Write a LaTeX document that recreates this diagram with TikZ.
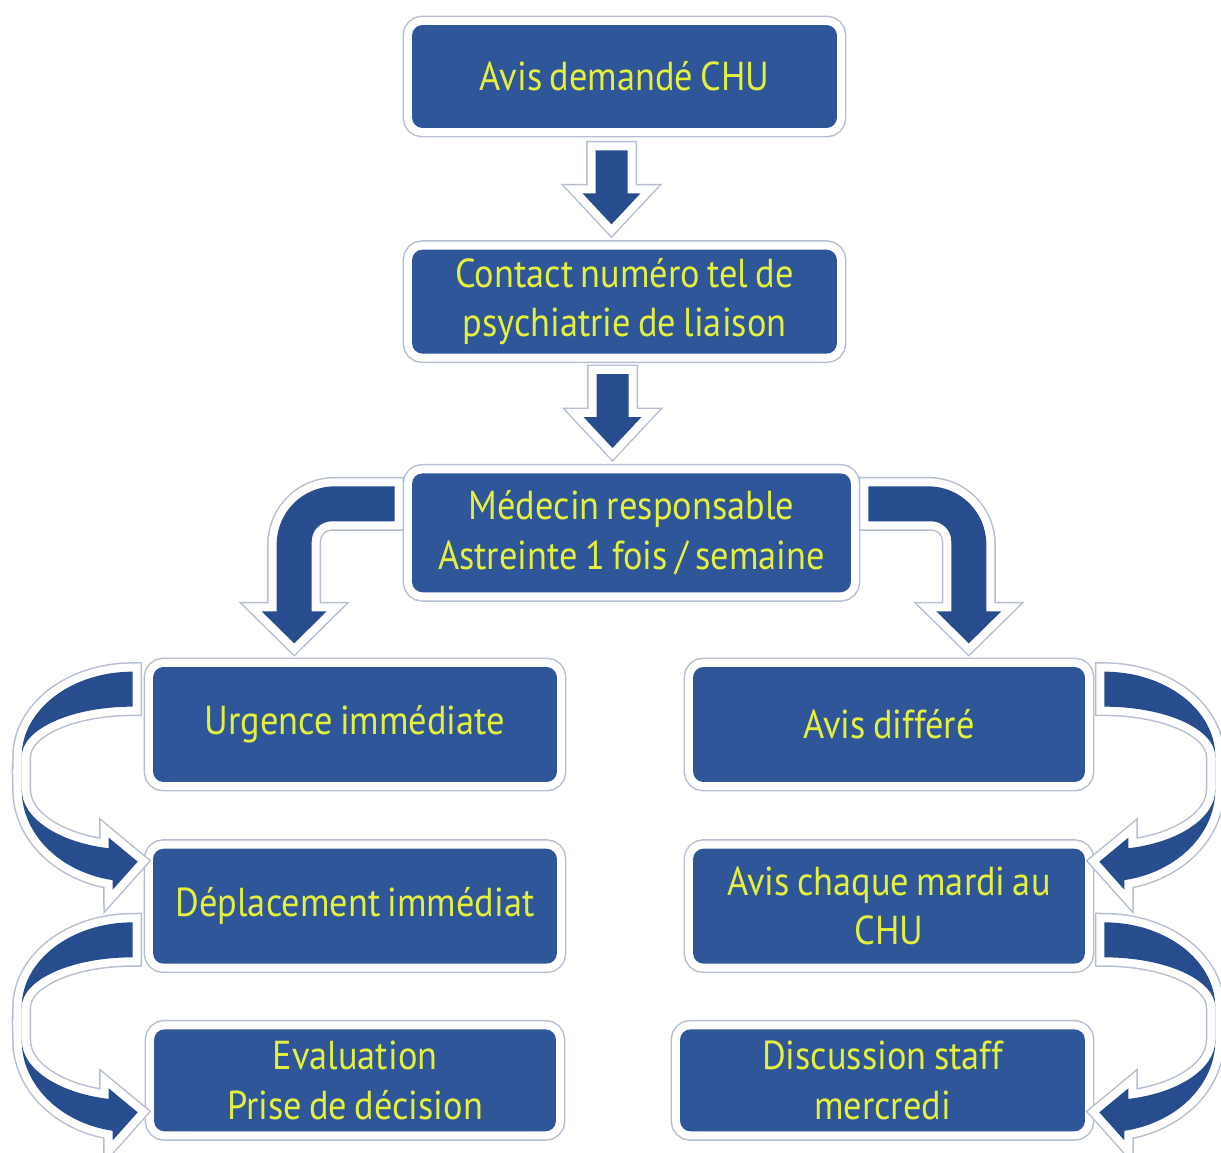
\documentclass[tikz,border=0pt]{standalone}
\usepackage{fontspec}
\setmainfont{PT Sans}[FakeStretch=0.9,WordSpace=0.75]
\usepackage{tikz}
\usetikzlibrary{calc,positioning}

\definecolor{boxblue}{RGB}{46,86,152}
\definecolor{arrowblue}{RGB}{40,77,142}
\definecolor{textyellow}{RGB}{228,240,60}
\definecolor{rimgrey}{RGB}{182,190,210}

\tikzset{
	stepbox/.style={rounded corners=6pt,fill=boxblue,text=textyellow,align=center,inner sep=0pt,
		font=\fontsize{23}{28}\selectfont,
		preaction={draw=rimgrey,line width=0.38cm},
		preaction={draw=white,line width=0.32cm}},
	blockarrow/.style={fill=arrowblue,line join=miter,
		preaction={draw=rimgrey,line width=0.38cm,line join=miter},
		preaction={draw=white,line width=0.32cm,line join=miter}},
	pics/downarr/.style={code={
		\path[blockarrow] (-16,0) -- (16,0) -- (16,-43) -- (29,-43) -- (0,-74) -- (-29,-43) -- (-16,-43) -- cycle;}},
	pics/bentarr/.style={code={
		\path[blockarrow] (-17,46.5) -- (-77,46.5) arc[start angle=90,end angle=180,radius=58]
			-- (-135,-78.5) -- (-150,-78.5) -- (-117.5,-110.5) -- (-85,-78.5) -- (-100,-78.5)
			-- (-100,-8.5) arc[start angle=180,end angle=90,radius=20] -- (-17,11.5) -- cycle;}},
	pics/sidearr/.style={code={
		\path[blockarrow] (0,0) arc[start angle=90,end angle=180,x radius=111,y radius=85]
				arc[start angle=180,end angle=90,x radius=111,y radius=50] -- cycle
			(-111,-85) -- (-111,-118)
			(-111,-118) arc[start angle=180,end angle=259.6,x radius=111,y radius=92]
				-- (-20,-218) -- (5,-190) -- (-24,-166) -- (-24,-176.6)
				arc[start angle=257.5,end angle=180,x radius=111,y radius=60] -- cycle;}},
}

\begin{document}
\begin{tikzpicture}[x=0.02cm,y=0.02cm]
		\useasboundingbox (0,0) rectangle (1221,-1153);
		% centre column
		\node(1) [stepbox,minimum width=8.5cm,minimum height=2.06cm] at (624.5,-76.5) {Avis demandé CHU};
		\node(2) [stepbox,minimum width=8.5cm,minimum height=2.08cm,below=2.42cm of 1] {Contact numéro tel de\\psychiatrie de liaison};
		\node(3) [stepbox,minimum width=8.78cm,minimum height=2.38cm,below=2.38cm of 2,xshift=0.14cm] {Médecin responsable\\Astreinte 1 fois / semaine};
		% left column
		\node(4) [stepbox,minimum width=8.08cm,minimum height=2.3cm] at (355,-724.5) {Urgence immédiate};
		\node(5) [stepbox,minimum width=8.08cm,minimum height=2.3cm,below=1.32cm of 4] {Déplacement immédiat};
		\node(6) [stepbox,minimum width=8.04cm,minimum height=2.04cm,below=1.3cm of 5] {Evaluation\\Prise de décision};
		% right column
		\node(7) [stepbox,minimum width=7.84cm,minimum height=2.3cm] at (889,-724.5) {Avis différé};
		\node(8) [stepbox,minimum width=7.84cm,minimum height=2.3cm,below=1.32cm of 7] {Avis chaque mardi au\\CHU};
		\node(9) [stepbox,minimum width=8.1cm,minimum height=2.04cm,below=1.3cm of 8,xshift=-0.13cm] {Discussion staff\\mercredi};
		% arrows
		\pic at ($(1.south)+(-13,-22)$) {downarr};
		\pic at ($(2.south)+(-12,-20)$) {downarr};
		\pic at (3.west) {bentarr};
		\pic[xscale=-1] at (3.east) {bentarr};
		\pic at ($(4.north west)+(-20,-5)$) {sidearr};
		\pic at ($(5.north west)+(-20,-74)$) {sidearr};
		\pic[xscale=-1] at ($(7.north east)+(19,-5)$) {sidearr};
		\pic[xscale=-1] at ($(8.north east)+(19,-74)$) {sidearr};
	\end{tikzpicture}
\end{document}
